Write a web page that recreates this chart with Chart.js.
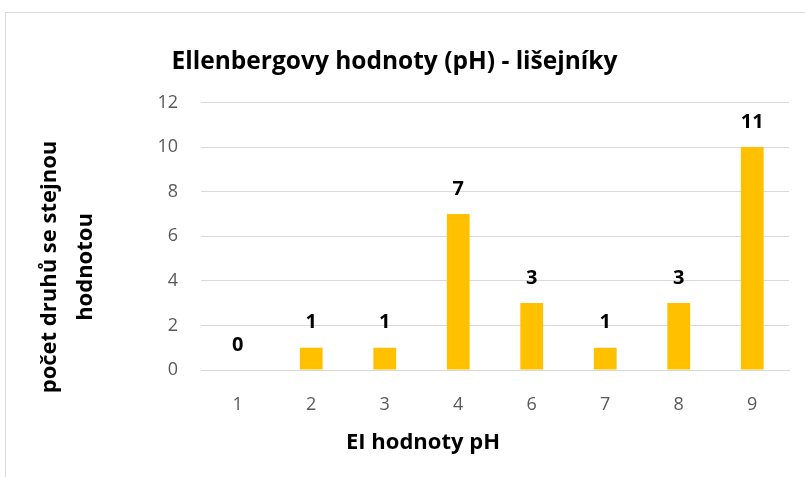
<!DOCTYPE html>
<html>
<head>
<meta charset="utf-8">
<script src="https://cdn.jsdelivr.net/npm/chart.js@4.4.0/dist/chart.umd.min.js"></script>
<style>
  body { margin: 0; background: #fff; overflow: hidden; }
  #frame { position: absolute; left: 5px; top: 12px; width: 900px; height: 600px; border: 1px solid #d9d9d9; }
  #wrap { position: absolute; left: 0; top: 0; width: 805px; height: 477px; }
</style>
</head>
<body>
<div id="frame"></div>
<div id="wrap"><canvas id="phChart" width="805" height="477"></canvas></div>
<script>
const categories = ["1", "2", "3", "4", "6", "7", "8", "9"];
const barValues = [0, 1, 1, 7, 3, 1, 3, 10];
const barLabels = ["0", "1", "1", "7", "3", "1", "3", "11"];
const yTicks = [0, 2, 4, 6, 8, 10, 12];

const chartTitle = "Ellenbergovy hodnoty (pH) - lišejníky";
const xTitle = "EI hodnoty pH";
const yTitleLines = ["počet druhů se stejnou", "hodnotou"];

const FONT = "'Open Sans', sans-serif";

// value labels above bars + axis titles
const labelsPlugin = {
    id: "labelsPlugin",
    afterDatasetsDraw(chart) {
        const ctx = chart.ctx;
        const meta = chart.getDatasetMeta(0);
        ctx.save();
        ctx.fillStyle = "#000";
        ctx.font = "bold 20px " + FONT;
        ctx.textAlign = "center";
        ctx.textBaseline = "middle";
        meta.data.forEach(function(bar, i) {
            ctx.fillText(barLabels[i], bar.x, bar.y - 25);
        });

        ctx.font = "bold 22px " + FONT;
        ctx.fillText(xTitle, 423, 443);

        ctx.translate(0, 267);
        ctx.rotate(-Math.PI / 2);
        ctx.fillText(yTitleLines[0], 0, 50);
        ctx.fillText(yTitleLines[1], 0, 86);
        ctx.restore();
    }
};

new Chart(document.getElementById("phChart"), {
    type: "bar",
    data: {
        labels: categories,
        datasets: [{
            data: barValues,
            backgroundColor: "#FFC000",
            categoryPercentage: 1,
            barPercentage: 0.31
        }]
    },
    options: {
        responsive: false,
        animation: false,
        layout: { padding: { left: 0, right: 16, top: 0, bottom: 0 } },
        plugins: {
            legend: { display: false },
            tooltip: { enabled: false },
            title: {
                display: true,
                text: chartTitle,
                color: "#000",
                font: { family: FONT, size: 24.5, weight: "bold" },
                padding: { top: 47, bottom: 26 }
            }
        },
        scales: {
            x: {
                grid: { display: false, drawTicks: false },
                border: { color: "#d9d9d9" },
                ticks: { color: "#595959", font: { family: FONT, size: 18 }, padding: 24 },
                afterFit(scale) { scale.height = 107; }
            },
            y: {
                min: 0,
                max: 12,
                afterBuildTicks(scale) { scale.ticks = yTicks.map(v => ({ value: v })); },
                grid: { color: "#d9d9d9", drawTicks: false },
                border: { display: false },
                ticks: { color: "#595959", font: { family: FONT, size: 18 }, padding: 23 },
                afterFit(scale) { scale.width = 201; }
            }
        }
    },
    plugins: [labelsPlugin]
});
</script>
</body>
</html>
